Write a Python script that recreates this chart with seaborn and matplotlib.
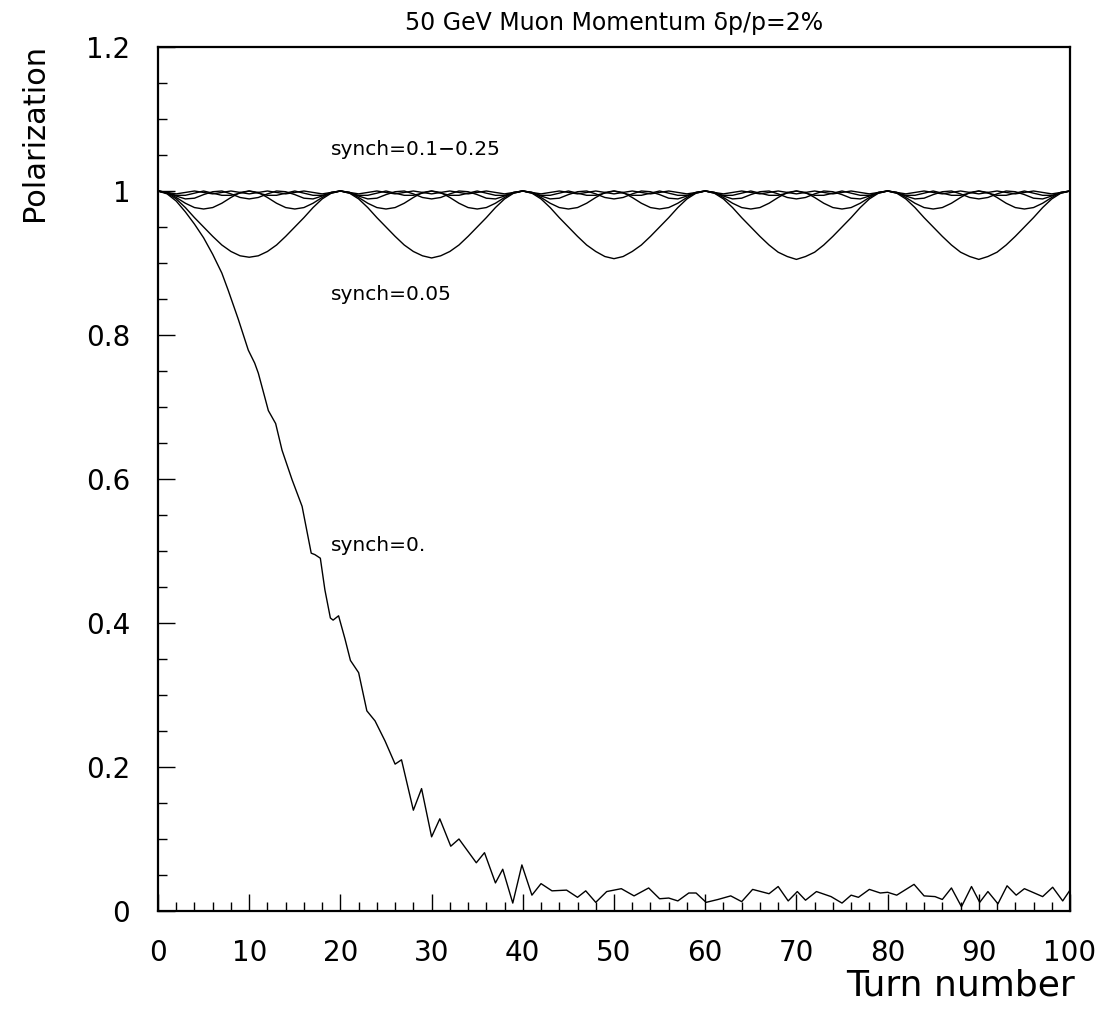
import numpy as np
import pandas as pd
import matplotlib
matplotlib.use("Agg")
import matplotlib.pyplot as plt
import seaborn as sns
from matplotlib.ticker import MultipleLocator

# ---------------- data ----------------
title_text = "50 GeV Muon Momentum δp/p=2%"
x_label = "Turn number"
y_label = "Polarization"

x_ticks = [0, 10, 20, 30, 40, 50, 60, 70, 80, 90, 100]
x_tick_labels = ["0", "10", "20", "30", "40", "50", "60", "70", "80", "90", "100"]
y_ticks = [0, 0.2, 0.4, 0.6, 0.8, 1.0, 1.2]
y_tick_labels = ["0", "0.2", "0.4", "0.6", "0.8", "1", "1.2"]

turns = list(range(0, 101))

synch_005 = [
    1.000, 0.997, 0.989, 0.977, 0.963, 0.950, 0.937, 0.925, 0.916, 0.910,
    0.908, 0.910, 0.916, 0.925, 0.937, 0.950, 0.963, 0.977, 0.989, 0.997,
    1.000, 0.997, 0.989, 0.977, 0.963, 0.950, 0.937, 0.925, 0.916, 0.910,
    0.907, 0.910, 0.916, 0.925, 0.937, 0.950, 0.963, 0.977, 0.989, 0.997,
    1.000, 0.997, 0.989, 0.977, 0.963, 0.950, 0.937, 0.925, 0.916, 0.909,
    0.906, 0.909, 0.916, 0.925, 0.937, 0.950, 0.963, 0.977, 0.989, 0.997,
    1.000, 0.997, 0.989, 0.977, 0.963, 0.950, 0.937, 0.925, 0.915, 0.909,
    0.905, 0.909, 0.915, 0.925, 0.937, 0.950, 0.963, 0.977, 0.989, 0.997,
    1.000, 0.997, 0.989, 0.977, 0.963, 0.950, 0.937, 0.925, 0.915, 0.909,
    0.905, 0.909, 0.915, 0.925, 0.937, 0.950, 0.963, 0.977, 0.989, 0.997,
    1.000,
]

synch_010 = [
    1.000, 0.998, 0.991, 0.983, 0.977, 0.975, 0.977, 0.983, 0.991, 0.998,
    1.000, 0.998, 0.991, 0.983, 0.977, 0.975, 0.977, 0.983, 0.991, 0.998,
    1.000, 0.998, 0.991, 0.983, 0.977, 0.975, 0.977, 0.983, 0.991, 0.998,
    1.000, 0.998, 0.991, 0.983, 0.977, 0.975, 0.977, 0.983, 0.991, 0.998,
    1.000, 0.998, 0.991, 0.983, 0.977, 0.975, 0.977, 0.983, 0.991, 0.998,
    1.000, 0.998, 0.991, 0.983, 0.977, 0.975, 0.977, 0.983, 0.991, 0.998,
    1.000, 0.998, 0.991, 0.983, 0.977, 0.975, 0.977, 0.983, 0.991, 0.998,
    1.000, 0.998, 0.991, 0.983, 0.977, 0.975, 0.977, 0.983, 0.991, 0.998,
    1.000, 0.998, 0.991, 0.983, 0.977, 0.975, 0.977, 0.983, 0.991, 0.998,
    1.000, 0.998, 0.991, 0.983, 0.977, 0.975, 0.977, 0.983, 0.991, 0.998,
    1.000,
]

synch_015 = [
    1.000, 0.998, 0.993, 0.989, 0.990, 0.995, 0.999, 1.000, 0.996, 0.991,
    0.989, 0.991, 0.996, 1.000, 0.999, 0.995, 0.990, 0.989, 0.993, 0.998,
    1.000, 0.998, 0.993, 0.989, 0.990, 0.995, 0.999, 1.000, 0.996, 0.991,
    0.989, 0.991, 0.996, 1.000, 0.999, 0.995, 0.990, 0.989, 0.993, 0.998,
    1.000, 0.998, 0.993, 0.989, 0.990, 0.995, 0.999, 1.000, 0.996, 0.991,
    0.989, 0.991, 0.996, 1.000, 0.999, 0.995, 0.990, 0.989, 0.993, 0.998,
    1.000, 0.998, 0.993, 0.989, 0.990, 0.995, 0.999, 1.000, 0.996, 0.991,
    0.989, 0.991, 0.996, 1.000, 0.999, 0.995, 0.990, 0.989, 0.993, 0.998,
    1.000, 0.998, 0.993, 0.989, 0.990, 0.995, 0.999, 1.000, 0.996, 0.991,
    0.989, 0.991, 0.996, 1.000, 0.999, 0.995, 0.990, 0.989, 0.993, 0.998,
    1.000,
]

synch_020 = [
    1.000, 0.997, 0.994, 0.994, 0.997, 1.000, 0.997, 0.994, 0.994, 0.997,
    1.000, 0.997, 0.994, 0.994, 0.997, 1.000, 0.997, 0.994, 0.994, 0.997,
    1.000, 0.997, 0.994, 0.994, 0.997, 1.000, 0.997, 0.994, 0.994, 0.997,
    1.000, 0.997, 0.994, 0.994, 0.997, 1.000, 0.997, 0.994, 0.994, 0.997,
    1.000, 0.997, 0.994, 0.994, 0.997, 1.000, 0.997, 0.994, 0.994, 0.997,
    1.000, 0.997, 0.994, 0.994, 0.997, 1.000, 0.997, 0.994, 0.994, 0.997,
    1.000, 0.997, 0.994, 0.994, 0.997, 1.000, 0.997, 0.994, 0.994, 0.997,
    1.000, 0.997, 0.994, 0.994, 0.997, 1.000, 0.997, 0.994, 0.994, 0.997,
    1.000, 0.997, 0.994, 0.994, 0.997, 1.000, 0.997, 0.994, 0.994, 0.997,
    1.000, 0.997, 0.994, 0.994, 0.997, 1.000, 0.997, 0.994, 0.994, 0.997,
    1.000,
]

synch_025 = [
    1.000, 0.998, 0.996, 0.998, 1.000, 0.998, 0.996, 0.998, 1.000, 0.998,
    0.996, 0.998, 1.000, 0.998, 0.996, 0.998, 1.000, 0.998, 0.996, 0.998,
    1.000, 0.998, 0.996, 0.998, 1.000, 0.998, 0.996, 0.998, 1.000, 0.998,
    0.996, 0.998, 1.000, 0.998, 0.996, 0.998, 1.000, 0.998, 0.996, 0.998,
    1.000, 0.998, 0.996, 0.998, 1.000, 0.998, 0.996, 0.998, 1.000, 0.998,
    0.996, 0.998, 1.000, 0.998, 0.996, 0.998, 1.000, 0.998, 0.996, 0.998,
    1.000, 0.998, 0.996, 0.998, 1.000, 0.998, 0.996, 0.998, 1.000, 0.998,
    0.996, 0.998, 1.000, 0.998, 0.996, 0.998, 1.000, 0.998, 0.996, 0.998,
    1.000, 0.998, 0.996, 0.998, 1.000, 0.998, 0.996, 0.998, 1.000, 0.998,
    0.996, 0.998, 1.000, 0.998, 0.996, 0.998, 1.000, 0.998, 0.996, 0.998,
    1.000,
]

synch_0_turns = [
    0, 1, 2, 3, 4, 5, 6, 7, 7.7, 8.8, 9.9, 10.6, 11.0, 11.7, 12.1, 12.9,
    13.6, 14.7, 15.8, 16.8, 17.2, 17.8, 18.3, 18.9, 19.2, 19.8, 20.5, 21.1,
    22.0, 22.9, 23.8, 24.9, 26.0, 26.7, 28.0, 28.9, 30.0, 30.9, 32.1, 33.0,
    34.9, 35.8, 37.0, 37.8, 38.9, 39.9, 41.0, 42.0, 43.2, 44.8, 46.0, 46.9,
    48.0, 49.2, 50.8, 52.2, 53.8, 55.0, 56.0, 57.0, 58.2, 59.0, 60.1, 61.4,
    62.8, 64.0, 65.2, 67.0, 68.0, 69.1, 70.1, 71.0, 72.2, 73.8, 75.0, 76.0,
    76.8, 78.0, 79.2, 80.0, 81.0, 82.9, 84.0, 85.2, 86.0, 87.0, 88.1, 89.2,
    90.1, 91.0, 92.1, 93.1, 94.1, 95.0, 97.0, 98.1, 99.2, 100.0,
]
synch_0 = [
    1.000, 0.996, 0.986, 0.971, 0.954, 0.935, 0.912, 0.886, 0.862, 0.822,
    0.779, 0.761, 0.747, 0.714, 0.695, 0.677, 0.640, 0.599, 0.562, 0.497,
    0.495, 0.490, 0.446, 0.407, 0.404, 0.410, 0.378, 0.348, 0.331, 0.278,
    0.264, 0.236, 0.204, 0.210, 0.140, 0.170, 0.103, 0.128, 0.090, 0.100,
    0.067, 0.081, 0.039, 0.058, 0.011, 0.064, 0.022, 0.038, 0.028, 0.029,
    0.019, 0.028, 0.012, 0.027, 0.031, 0.021, 0.032, 0.017, 0.018, 0.014,
    0.025, 0.025, 0.012, 0.016, 0.021, 0.013, 0.030, 0.024, 0.034, 0.014,
    0.027, 0.015, 0.027, 0.020, 0.011, 0.022, 0.019, 0.030, 0.025, 0.026,
    0.022, 0.037, 0.021, 0.020, 0.016, 0.032, 0.006, 0.034, 0.012, 0.027,
    0.010, 0.035, 0.022, 0.031, 0.020, 0.033, 0.014, 0.029,
]

annotations = ["synch=0.1\u22120.25", "synch=0.05", "synch=0."]
annotation_x = [19.0, 19.0, 19.0]
annotation_y = [1.057, 0.856, 0.508]

# ---------------- build long-format table ----------------
frames = []
for name, xs, ys in [
    ("0.25", turns, synch_025),
    ("0.20", turns, synch_020),
    ("0.15", turns, synch_015),
    ("0.10", turns, synch_010),
    ("0.05", turns, synch_005),
    ("0.00", synch_0_turns, synch_0),
]:
    frames.append(pd.DataFrame({"turn": xs, "pol": ys, "series": name}))
df = pd.concat(frames, ignore_index=True)

# ---------------- plot ----------------
sns.set_style("ticks")
plt.rcParams["font.family"] = ["DejaVu Sans"]
plt.rcParams["text.color"] = "black"
plt.rcParams["xtick.color"] = "black"
plt.rcParams["ytick.color"] = "black"
plt.rcParams["axes.labelcolor"] = "black"

fig = plt.figure(figsize=(10.99, 10.25), dpi=100)
ax = fig.add_axes([158 / 1099, 1 - 911 / 1025, (1070 - 158) / 1099, (911 - 47) / 1025])

series_order = ["0.25", "0.20", "0.15", "0.10", "0.05", "0.00"]
sns.lineplot(
    data=df, x="turn", y="pol", hue="series", hue_order=series_order,
    palette=["black"] * len(series_order), estimator=None, sort=False,
    legend=False, linewidth=1.0, ax=ax,
)

ax.set_xlim(0, 100)
ax.set_ylim(0, 1.2)
ax.set_xticks(x_ticks)
ax.set_xticklabels(x_tick_labels)
ax.set_yticks(y_ticks)
ax.set_yticklabels(y_tick_labels)
ax.xaxis.set_minor_locator(MultipleLocator(2))
ax.yaxis.set_minor_locator(MultipleLocator(0.05))
ax.tick_params(which="both", direction="in", top=False, right=False,
               color="black", labelcolor="black", width=1.0)
ax.tick_params(which="major", length=12, labelsize=20, pad=20)
ax.tick_params(which="minor", length=6.5)
ax.set_xlabel("")
ax.set_ylabel("")
for sp in ax.spines.values():
    sp.set_visible(True)
    sp.set_linewidth(1.6)
    sp.set_color("black")

ax.set_title(title_text, fontsize=17, pad=12, color="black")

for txt, xx, yy in zip(annotations, annotation_x, annotation_y):
    ax.text(xx, yy, txt, fontsize=14.5, ha="left", va="center", color="black")

fig.text(960 / 1099, 1 - 985 / 1025, x_label, fontsize=26, ha="center",
         va="center", color="black")
fig.text(35 / 1099, 1 - 132 / 1025, y_label, fontsize=22, rotation=90,
         ha="center", va="center", color="black")

fig.savefig("out.png", dpi=100, facecolor="white")
